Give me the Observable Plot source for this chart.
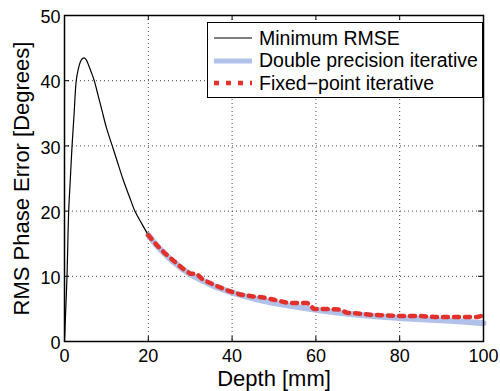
<!DOCTYPE html>
<html><head><meta charset="utf-8">
<script src="https://cdn.jsdelivr.net/npm/d3@7"></script>
<script src="https://cdn.jsdelivr.net/npm/@observablehq/plot@0.6"></script>
<style>
body{margin:0;background:#fff;}
#wrap{position:relative;width:500px;height:391px;font-family:"Liberation Sans",Arial,sans-serif;}
#legend{position:absolute;left:207px;top:22px;width:276px;height:76px;border:1.3px solid #000;background:#fff;box-sizing:border-box;}
.row{position:absolute;left:0;height:22px;display:flex;align-items:center;white-space:nowrap;font-size:19.5px;color:#000;}
.row svg{margin-left:6px;margin-right:7px;}
</style></head><body><div id="wrap"></div>
<script>
// Minimum RMSE curve
const depthMin = [0, 0.3, 0.6, 1.0, 1.4, 1.8, 2.3, 2.8, 3.3, 3.8, 4.3, 4.7, 5.2, 5.8, 6.4, 7.1, 8, 9, 10, 11.4, 12.5, 14, 15.5, 16.8, 18.5, 20];
const rmseMin  = [0, 5, 10, 20, 25, 30, 35, 40, 41.8, 42.9, 43.4, 43.5, 43.2, 42.3, 41.3, 40, 37.8, 35.3, 32.8, 30, 27.8, 24.8, 22.2, 20, 18, 16.3];
// Double precision iterative
const depthDbl = [20, 22, 24, 26, 28, 30, 33, 36, 40, 45, 50, 55, 60, 65, 70, 75, 80, 85, 90, 95, 100];
const rmseDbl  = [16.3, 14.7, 13.4, 12.2, 11.2, 10.3, 9.3, 8.4, 7.5, 6.6, 5.9, 5.35, 4.85, 4.45, 4.1, 3.85, 3.6, 3.4, 3.25, 3.05, 2.8];
// Fixed-point iterative
const depthFix = [20, 22, 24, 26, 28, 30, 31.5, 33, 36, 39, 42, 45, 47, 50, 53.5, 56, 58, 59.5, 62, 65.5, 67.5, 70, 73, 77, 81, 85, 88.5, 93, 96, 98.5, 100];
const rmseFix  = [16.3, 14.8, 13.5, 12.4, 11.3, 10.4, 10.4, 9.5, 8.6, 7.8, 7.2, 6.9, 6.8, 6.4, 5.9, 5.9, 5.9, 5.0, 5.0, 4.9, 4.4, 4.3, 4.1, 4.0, 3.9, 3.9, 3.75, 3.75, 3.75, 3.75, 4.0];

const xTicks = [0, 20, 40, 60, 80, 100];
const yTicks = [0, 10, 20, 30, 40, 50];
const xGrid = [20, 40, 60, 80];
const yGrid = [10, 20, 30, 40];
const seriesNames = ["Minimum RMSE", "Double precision iterative", "Fixed\u2212point iterative"];
const xTitle = "Depth [mm]";
const yTitle = "RMS Phase Error [Degrees]";

const minData = depthMin.map((d, i) => ({x: d, y: rmseMin[i]}));
const dblData = depthDbl.map((d, i) => ({x: d, y: rmseDbl[i]}));
const fixData = depthFix.map((d, i) => ({x: d, y: rmseFix[i]}));

const blue = "#b1c1e9", red = "#e2302a";

const plot = Plot.plot({
  width: 500, height: 391,
  marginLeft: 64, marginRight: 17, marginTop: 15, marginBottom: 50,
  style: {fontFamily: "'Liberation Sans', Arial, sans-serif", fontSize: "18px", color: "#000", background: "#fff"},
  x: {domain: [0, 100]},
  y: {domain: [0, 50]},
  marks: [
    Plot.ruleX(xGrid, {x: d => d, stroke: "#444", strokeWidth: 1, strokeDasharray: "1,3"}),
    Plot.ruleY(yGrid, {y: d => d, stroke: "#444", strokeWidth: 1, strokeDasharray: "1,3"}),
    // inward ticks
    Plot.ruleX(xTicks, {x: d => d, y1: 0, y2: 0, insetTop: -5, stroke: "#000"}),
    Plot.ruleX(xTicks, {x: d => d, y1: 50, y2: 50, insetBottom: -5, stroke: "#000"}),
    Plot.ruleY(yTicks, {y: d => d, x1: 0, x2: 0, insetRight: -5, stroke: "#000"}),
    Plot.ruleY(yTicks, {y: d => d, x1: 100, x2: 100, insetLeft: -5, stroke: "#000"}),
    Plot.line(dblData, {x: "x", y: "y", stroke: blue, strokeWidth: 6}),
    Plot.line(minData, {x: "x", y: "y", stroke: "#000", strokeWidth: 1.2, curve: "catmull-rom"}),
    Plot.line(fixData, {x: "x", y: "y", stroke: red, strokeWidth: 4.5, strokeDasharray: "5,6"}),
    Plot.frame({stroke: "#000", strokeWidth: 1.5}),
    Plot.axisX(xTicks, {tickSize: 0, tickPadding: 8, fontSize: 18, label: null}),
    Plot.axisY(yTicks, {tickSize: 0, tickPadding: 4, fontSize: 18, label: null, dy: 2}),
    Plot.text([xTitle], {text: d => d, frameAnchor: "bottom", lineAnchor: "middle", dy: 37, fontSize: 22}),
    Plot.text([yTitle], {text: d => d, frameAnchor: "left", textAnchor: "middle", lineAnchor: "middle", dx: -43, rotate: -90, fontSize: 22})
  ]
});

const wrap = document.getElementById("wrap");
wrap.appendChild(plot);

const legend = document.createElement("div");
legend.id = "legend";
const styles = [
  {stroke: "#000", w: 1.2, dash: null},
  {stroke: blue, w: 5, dash: null},
  {stroke: red, w: 4.5, dash: "5,7"}
];
seriesNames.forEach((name, i) => {
  const row = document.createElement("div");
  row.className = "row";
  row.style.top = (4 + i * 22.5) + "px";
  const s = styles[i];
  row.innerHTML = `<svg width="38" height="10"><line x1="0" x2="38" y1="5" y2="5" stroke="${s.stroke}" stroke-width="${s.w}" ${s.dash ? `stroke-dasharray="${s.dash}"` : ""}/></svg><span>${name}</span>`;
  legend.appendChild(row);
});
wrap.appendChild(legend);
</script></body></html>
